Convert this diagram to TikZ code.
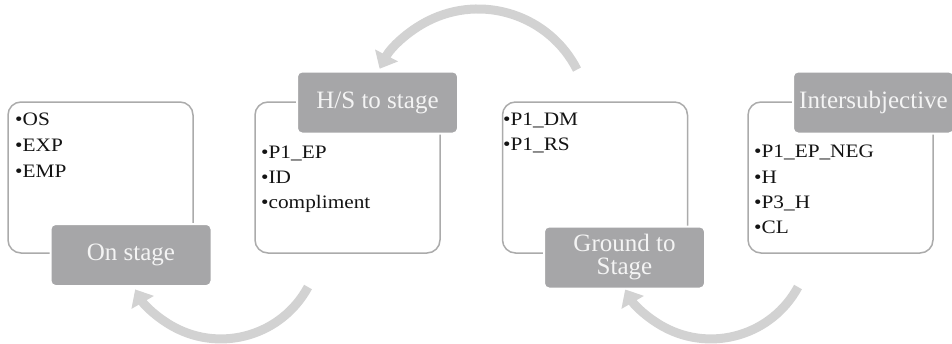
\documentclass[tikz,border=0pt]{standalone}
\usepackage{fontspec}
\setmainfont{Liberation Serif}
\newfontfamily\itemfam{Liberation Serif}[FakeStretch=1.12]
\usetikzlibrary{arrows.meta}
\definecolor{boxgray}{HTML}{ABABAB}
\definecolor{labgray}{HTML}{A6A6A8}
\definecolor{labtext}{HTML}{F4F4F4}
\definecolor{itemtext}{HTML}{141414}
\definecolor{arrgray}{HTML}{D2D2D2}
\tikzset{
  content/.style={draw=boxgray, line width=1.5pt, rounded corners=13pt, fill=white,
    minimum width=185pt, minimum height=151pt, inner sep=0pt},
  lab/.style={fill=labgray, draw=white, line width=2pt, rounded corners=5pt,
    minimum width=161pt, minimum height=62pt, inner sep=0pt, text=labtext,
    font=\fontsize{25pt}{23pt}\selectfont, align=center},
  item/.style={anchor=base west, inner sep=0pt, text=itemtext,
    font=\itemfam\fontsize{19pt}{25pt}\selectfont},
  cyc/.style={draw=arrgray, line width=9pt, -{Triangle[width=25pt,length=15pt]}}
}
\begin{document}
\begin{tikzpicture}[x=1pt,y=1pt]
\useasboundingbox (0,0) rectangle (952,-343);
\clip (0,0) rectangle (952,-343);
% cycle arrows
\coordinate (a1) at (308,-287);
\coordinate (a2) at (577,-69.6);
\coordinate (a3) at (798,-287);
\draw[cyc] (a1) arc[start angle=-28.4, end angle=-150, radius=99];
\draw[cyc] (a2) arc[start angle=27, end angle=152.5, radius=111];
\draw[cyc] (a3) arc[start angle=-28.4, end angle=-150, radius=99];
% content boxes
\node[content] (b1) at (100.5,-177.5) {};
\node[content] (b2) at (347.5,-177.5) {};
\node[content] (b3) at (595,-177.5) {};
\node[content] (b4) at (840.5,-177.5) {};
% labels
\node[lab] (l1) at (131,-255) {On stage};
\node[lab] (l2) at (377.5,-102.5) {H/S to stage};
\node[lab] (l3) at (624.5,-257.5) {Ground to\\Stage};
\node[lab] (l4) at (873.5,-102.5) {Intersubjective};
% items
\node[item] (i11) at (15,-125) {•OS};
\node[item] (i12) at (15,-151) {•EXP};
\node[item] (i13) at (15,-177) {•EMP};
\node[item] (i21) at (261,-158) {•P1\_EP};
\node[item] (i22) at (261,-183) {•ID};
\node[item] (i23) at (261,-208) {•compliment};
\node[item] (i31) at (503,-125) {•P1\_DM};
\node[item] (i32) at (503,-150) {•P1\_RS};
\node[item] (i41) at (754,-157) {•P1\_EP\_NEG};
\node[item] (i42) at (754,-183) {•H};
\node[item] (i43) at (754,-208) {•P3\_H};
\node[item] (i44) at (754,-233) {•CL};
\end{tikzpicture}
\end{document}
